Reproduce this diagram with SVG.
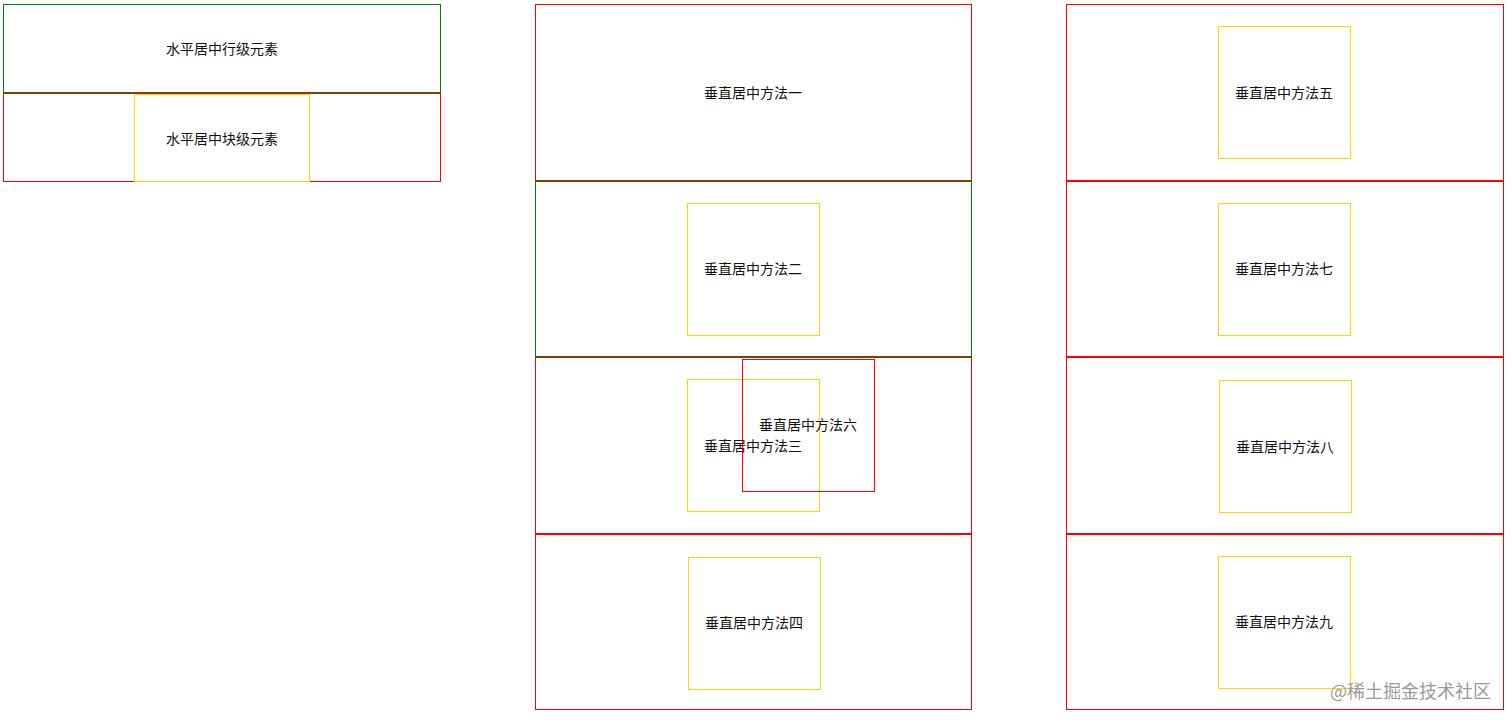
<svg xmlns="http://www.w3.org/2000/svg" width="1512" height="720" viewBox="0 0 1512 720">
<style>
rect{fill:none;stroke-width:1}
.r{stroke:#f00}
.g{stroke:#008000}
.y{stroke:#ffd700}
text{font-family:"Noto Sans CJK SC","Noto Sans",sans-serif;font-size:14px;fill:#111;text-anchor:middle;dominant-baseline:central}
.wm{font-size:18px;fill:#9a9a9a;text-anchor:start}
</style>
<rect width="1512" height="720" style="fill:#fff;stroke:none"/>
<g id="inline-center">
<rect class="g" x="3.5" y="4.5" width="437" height="88"/>
<text x="222" y="48">水平居中行级元素</text>
</g>
<g id="block-center">
<rect class="r" x="3.5" y="93.5" width="437" height="88"/>
<rect class="y" x="134.5" y="94.5" width="175" height="87"/>
<text x="222" y="138">水平居中块级元素</text>
</g>
<g id="method1">
<rect class="r" x="535.5" y="4.5" width="436" height="176"/>
<text x="753" y="92">垂直居中方法一</text>
</g>
<g id="method2">
<rect class="g" x="535.5" y="181.5" width="436" height="175"/>
<rect class="y" x="687.5" y="203.5" width="132" height="132"/>
<text x="753" y="268">垂直居中方法二</text>
</g>
<g id="method3">
<rect class="r" x="535.5" y="357.5" width="436" height="176"/>
<rect class="y" x="687.5" y="379.5" width="132" height="132"/>
<text x="753" y="445">垂直居中方法三</text>
</g>
<g id="method6">
<rect class="r" x="742.5" y="359.5" width="132" height="132"/>
<text x="808" y="424">垂直居中方法六</text>
</g>
<g id="method4">
<rect class="r" x="535.5" y="534.5" width="436" height="175"/>
<rect class="y" x="688.5" y="557.5" width="132" height="132"/>
<text x="754" y="622">垂直居中方法四</text>
</g>
<g id="method5">
<rect class="r" x="1066.5" y="4.5" width="437" height="176"/>
<rect class="y" x="1218.5" y="26.5" width="132" height="132"/>
<text x="1284" y="92">垂直居中方法五</text>
</g>
<g id="method7">
<rect class="r" x="1066.5" y="181.5" width="437" height="175"/>
<rect class="y" x="1218.5" y="203.5" width="132" height="132"/>
<text x="1284" y="268">垂直居中方法七</text>
</g>
<g id="method8">
<rect class="r" x="1066.5" y="357.5" width="437" height="176"/>
<rect class="y" x="1219.5" y="380.5" width="132" height="132"/>
<text x="1285" y="446">垂直居中方法八</text>
</g>
<g id="method9">
<rect class="r" x="1066.5" y="534.5" width="437" height="175"/>
<rect class="y" x="1218.5" y="556.5" width="132" height="132"/>
<text x="1284" y="621">垂直居中方法九</text>
</g>
<g id="connectors"></g>
<text class="wm" x="1330" y="690">@稀土掘金技术社区</text>
</svg>
